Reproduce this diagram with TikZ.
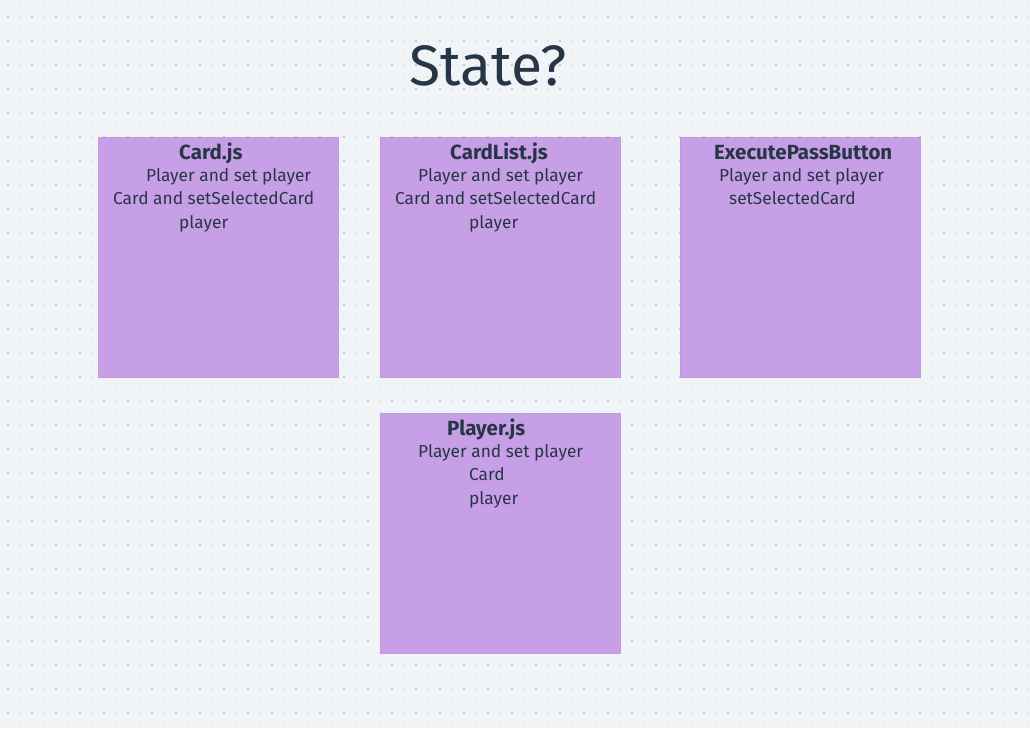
\documentclass[tikz,border=0pt]{standalone}
\usepackage{fontspec}
\setmainfont{Fira Sans}
\definecolor{bg}{HTML}{F0F4F7}
\definecolor{dotl}{HTML}{E0E5EB}
\definecolor{dotd}{HTML}{C6CCD6}
\definecolor{sticky}{HTML}{C79FE6}
\definecolor{stickyedge}{HTML}{C29ADF}
\definecolor{ink}{HTML}{263646}
\begin{document}
\begin{tikzpicture}[x=1pt,y=-1pt,
  note/.style={draw=stickyedge,line width=0.6pt,fill=sticky},
  hd/.style={anchor=base west,inner sep=0pt,text=ink,font=\fontsize{20.5}{24}\selectfont\bfseries},
  ln/.style={anchor=base west,inner sep=0pt,text=ink,font=\fontsize{17.3}{20}\selectfont}]
\useasboundingbox (0,0) rectangle (1030,728);
\fill[bg] (0,0) rectangle (1030,728);
% dot grid
\foreach \i in {0,...,85}{
  \foreach \j in {0,...,60}{
    \pgfmathsetmacro{\xx}{8+12*\i}
    \pgfmathsetmacro{\yy}{5+12*\j}
    \pgfmathtruncatemacro{\dk}{(mod(\i,2)==0 && mod(\j,2)==1) ? 1 : 0}
    \ifnum\dk=1
      \fill[dotd] (\xx-1,\yy-1) rectangle (\xx+1,\yy+1);
    \else
      \fill[dotl] (\xx-1,\yy-1) rectangle (\xx+1,\yy+1);
    \fi
  }
}
% title
\node[anchor=base west,inner sep=0pt,text=ink,font=\fontsize{57}{66}\selectfont] (title) at (409,85) {State?};
% notes
\path[note] (98,137) rectangle (338,377) coordinate (cardbox);
\path[note] (380,137) rectangle (620,377) coordinate (listbox);
\path[note] (680,137) rectangle (920,377) coordinate (execbox);
\path[note] (380,413) rectangle (620,653) coordinate (playerbox);
% Card.js
\node[hd] (c0) at (179,159) {Card.js};
\node[ln] (c1) at (146,181) {Player and set player};
\node[ln] (c2) at (113,204) {Card and setSelectedCard};
\node[ln] (c3) at (179,228) {player};
% CardList.js
\node[hd] (l0) at (450,159) {CardList.js};
\node[ln] (l1) at (418,181) {Player and set player};
\node[ln] (l2) at (395,204) {Card and setSelectedCard};
\node[ln] (l3) at (469,228) {player};
% ExecutePassButton
\node[hd] (e0) at (714,159) {ExecutePassButton};
\node[ln] (e1) at (719,181) {Player and set player};
\node[ln] (e2) at (729,204) {setSelectedCard};
% Player.js
\node[hd] (p0) at (447,435) {Player.js};
\node[ln] (p1) at (418,457) {Player and set player};
\node[ln] (p2) at (469,480) {Card};
\node[ln] (p3) at (469,504) {player};
\end{tikzpicture}
\end{document}
